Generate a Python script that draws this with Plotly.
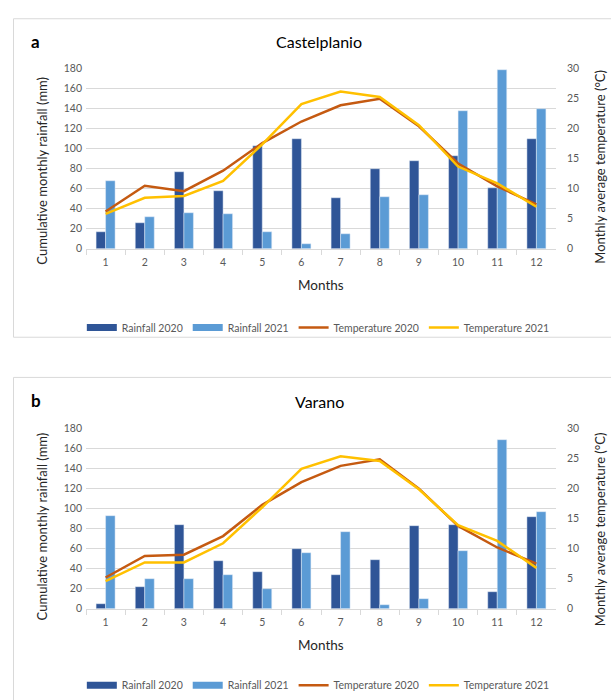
import plotly.graph_objects as go

months = ["1", "2", "3", "4", "5", "6", "7", "8", "9", "10", "11", "12"]

# Panel a: Castelplanio
castel_rain_2020 = [17, 26, 77, 58, 103, 110, 51, 80, 88, 93, 61, 110]
castel_rain_2021 = [68, 32, 36, 35, 17, 5, 15, 52, 54, 138, 179, 140]
castel_temp_2020 = [6.2, 10.5, 9.6, 13.0, 17.6, 21.2, 23.9, 25.0, 20.4, 14.2, 10.4, 7.4]
castel_temp_2021 = [5.8, 8.5, 8.8, 11.3, 17.4, 24.1, 26.2, 25.3, 20.6, 13.7, 10.9, 7.0]

# Panel b: Varano
varano_rain_2020 = [5, 22, 84, 48, 37, 60, 34, 49, 83, 84, 17, 92]
varano_rain_2021 = [93, 30, 30, 34, 20, 56, 77, 4, 10, 58, 169, 97]
varano_temp_2020 = [5.2, 8.8, 9.0, 12.1, 17.3, 21.1, 23.8, 24.9, 20.0, 13.8, 10.2, 7.5]
varano_temp_2021 = [4.6, 7.7, 7.7, 10.9, 16.9, 23.3, 25.4, 24.6, 19.9, 13.9, 11.3, 6.8]

rain_ticks = [0, 20, 40, 60, 80, 100, 120, 140, 160, 180]
temp_ticks = [0, 5, 10, 15, 20, 25, 30]

DARK = "#2F5597"
LIGHT = "#5B9BD5"
ORANGE = "#C55A11"
YELLOW = "#FFC000"
GRID = "#D9D9D9"
TICKC = "#595959"
FONT = "Lato"

W, H = 611, 700

def px_x(v):
    return v / W

def px_y(v):
    return 1 - v / H

fig = go.Figure()

panels = [
    dict(xa="x", ya="y", ya2="y2", legend="legend",
         r20=castel_rain_2020, r21=castel_rain_2021,
         t20=castel_temp_2020, t21=castel_temp_2021),
    dict(xa="x2", ya="y3", ya2="y4", legend="legend2",
         r20=varano_rain_2020, r21=varano_rain_2021,
         t20=varano_temp_2020, t21=varano_temp_2021),
]

for p in panels:
    fig.add_trace(go.Bar(x=months, y=p["r20"], name="Rainfall 2020", marker_color=DARK,
                         xaxis=p["xa"], yaxis=p["ya"], showlegend=False))
    fig.add_trace(go.Bar(x=months, y=p["r21"], name="Rainfall 2021", marker_color=LIGHT,
                         xaxis=p["xa"], yaxis=p["ya"], showlegend=False))
    # legend entries for the bars drawn as wide swatches (Excel style)
    fig.add_trace(go.Scatter(x=[None], y=[None], name="Rainfall 2020", mode="lines",
                             line=dict(color=DARK, width=7),
                             xaxis=p["xa"], yaxis=p["ya"], legend=p["legend"]))
    fig.add_trace(go.Scatter(x=[None], y=[None], name="Rainfall 2021", mode="lines",
                             line=dict(color=LIGHT, width=7),
                             xaxis=p["xa"], yaxis=p["ya"], legend=p["legend"]))
    fig.add_trace(go.Scatter(x=months, y=p["t20"], name="Temperature 2020", mode="lines",
                             line=dict(color=ORANGE, width=2.5),
                             xaxis=p["xa"], yaxis=p["ya2"], legend=p["legend"]))
    fig.add_trace(go.Scatter(x=months, y=p["t21"], name="Temperature 2021", mode="lines",
                             line=dict(color=YELLOW, width=2.5),
                             xaxis=p["xa"], yaxis=p["ya2"], legend=p["legend"]))

xdom = [px_x(86), px_x(556)]
dom_a = [px_y(247.7), px_y(64)]
dom_b = [px_y(615), px_y(431.3)]

tickfont = dict(family=FONT, size=10.5, color=TICKC)

def xaxis_cfg(anchor):
    return dict(domain=xdom, anchor=anchor, type="category", showline=True, linecolor=GRID,
                linewidth=1, ticks="outside", tickson="boundaries", ticklen=5, tickcolor=GRID,
                showgrid=False, tickfont=tickfont, fixedrange=True, ticklabelstandoff=4)

def yleft_cfg(dom, anchor):
    return dict(domain=dom, anchor=anchor, range=[0, 180], tickvals=rain_ticks,
                showgrid=True, gridcolor=GRID, gridwidth=1, zeroline=False, showline=False,
                ticks="", tickfont=tickfont, ticklabelstandoff=3)

def yright_cfg(dom, anchor, overlay):
    return dict(domain=dom, anchor=anchor, overlaying=overlay, side="right", range=[0, 30],
                tickvals=temp_ticks, showgrid=False, zeroline=False, showline=False,
                ticks="", tickfont=tickfont, ticklabelstandoff=10)

legend_common = dict(orientation="h", xanchor="center", x=0.521, yanchor="middle",
                     font=dict(family=FONT, size=10.5, color=TICKC), bgcolor="rgba(0,0,0,0)",
                     traceorder="normal", itemwidth=30, tracegroupgap=0)

fig.update_layout(
    width=W, height=H,
    margin=dict(l=0, r=0, t=0, b=0),
    paper_bgcolor="white", plot_bgcolor="white",
    barmode="group", bargap=0.515, bargroupgap=0,
    font=dict(family=FONT, color="black"),
    showlegend=True,
    xaxis=xaxis_cfg("y"),
    yaxis=yleft_cfg(dom_a, "x"),
    yaxis2=yright_cfg(dom_a, "x", "y"),
    xaxis2=xaxis_cfg("y3"),
    yaxis3=yleft_cfg(dom_b, "x2"),
    yaxis4=yright_cfg(dom_b, "x2", "y3"),
    legend=dict(y=px_y(328), **legend_common),
    legend2=dict(y=px_y(693), **legend_common),
)

# Panel borders
fig.add_shape(type="rect", xref="paper", yref="paper", x0=px_x(13.5), x1=px_x(640),
              y0=px_y(338), y1=px_y(13), line=dict(color=GRID, width=1), layer="below")
fig.add_shape(type="rect", xref="paper", yref="paper", x0=px_x(13.5), x1=px_x(640),
              y0=px_y(720), y1=px_y(379), line=dict(color=GRID, width=1), layer="below")

ann = []
for label, title, ly, ty, mths_y, lt_y, rt_y in [
    ("a", "Castelplanio", 36, 36, 285, 168, 164),
    ("b", "Varano", 403, 404, 652, 531, 534),
]:
    ann.append(dict(text="<b>%s</b>" % label, x=px_x(35.5), y=px_y(ly), xref="paper", yref="paper",
                    showarrow=False, font=dict(family=FONT, size=17, color="black"),
                    xanchor="center", yanchor="middle"))
    ann.append(dict(text=title, x=px_x(319), y=px_y(ty), xref="paper", yref="paper",
                    showarrow=False, font=dict(family=FONT, size=16, color="black"),
                    xanchor="center", yanchor="middle"))
    ann.append(dict(text="Months", x=px_x(321), y=px_y(mths_y), xref="paper", yref="paper",
                    showarrow=False, font=dict(family=FONT, size=13.5, color="#262626"),
                    xanchor="center", yanchor="middle"))
    ann.append(dict(text="Cumulative monthly rainfall (mm)", x=px_x(42), y=px_y(lt_y),
                    xref="paper", yref="paper", showarrow=False, textangle=-90,
                    font=dict(family=FONT, size=13, color="#262626"),
                    xanchor="center", yanchor="middle"))
    ann.append(dict(text="Monthly average temperature (°C)", x=px_x(600), y=px_y(rt_y),
                    xref="paper", yref="paper", showarrow=False, textangle=-90,
                    font=dict(family=FONT, size=13, color="#262626"),
                    xanchor="center", yanchor="middle"))
fig.update_layout(annotations=ann)

fig.write_html("out.html", config=dict(displayModeBar=False),
               post_script="document.body.style.margin='0';document.body.style.padding='0';"
                           "document.documentElement.style.overflow='hidden';")
